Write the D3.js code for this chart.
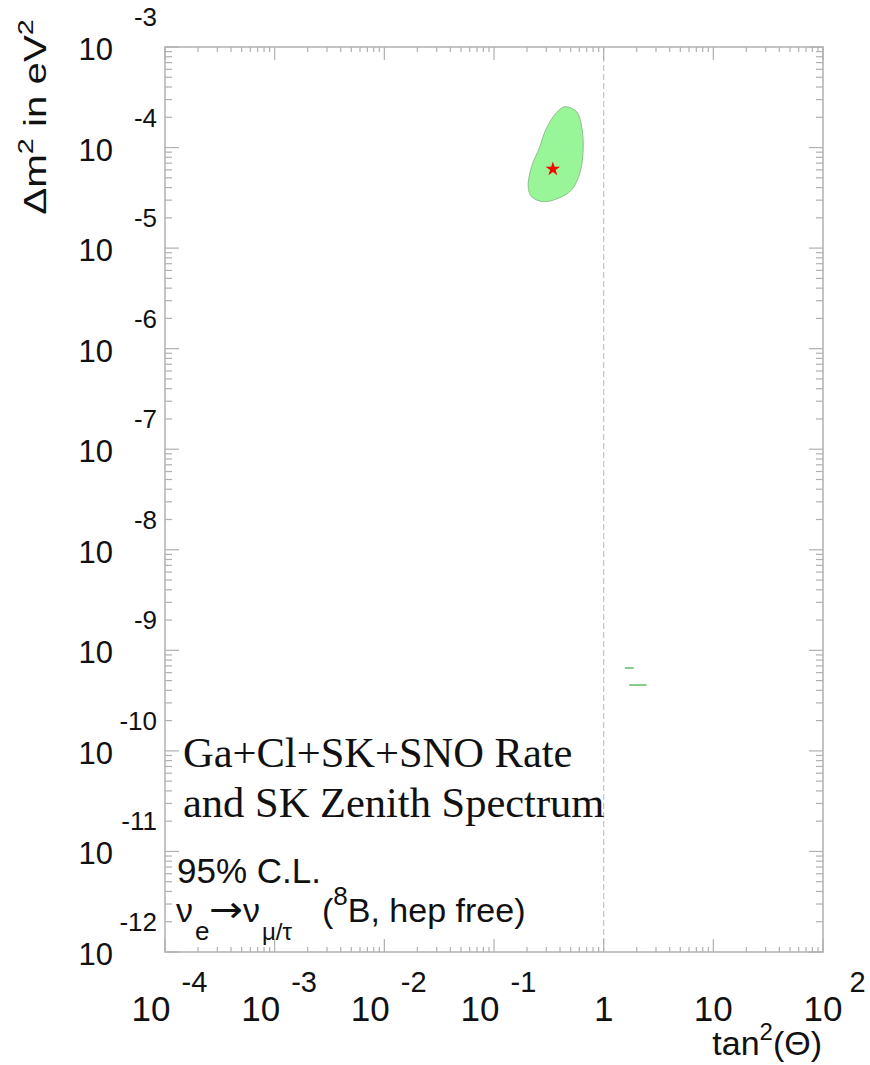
<!DOCTYPE html>
<html>
<head>
<meta charset="utf-8">
<script src="https://cdn.jsdelivr.net/npm/d3@7"></script>
<style>
  body { margin: 0; background: #fff; }
  svg text { fill: #111; }
</style>
</head>
<body>
<div id="chart"></div>
<script>
// tick decades and labels
const xExponents = [-4, -3, -2, -1, 0, 1, 2];
const xTickBase = ["10", "10", "10", "10", "1", "10", "10"];
const xTickExp = ["-4", "-3", "-2", "-1", "", "", "2"];
const yExponents = [-3, -4, -5, -6, -7, -8, -9, -10, -11, -12];

// 95% C.L. allowed region (LMA)
const contourX = [0.443, 0.566, 0.630, 0.650, 0.607, 0.509, 0.385, 0.281, 0.220, 0.205, 0.220, 0.262, 0.291, 0.347, 0.399];
const contourY = [2.55e-4, 2.28e-4, 1.61e-4, 9.46e-5, 5.6e-5, 3.79e-5, 3.13e-5, 2.90e-5, 3.25e-5, 4.08e-5, 6.46e-5, 1.02e-4, 1.44e-4, 2.03e-4, 2.40e-4];

// tiny islands at large mixing
const islandX0 = [1.56, 1.71];
const islandX1 = [1.88, 2.46];
const islandY = [6.67e-10, 4.52e-10];

// best fit point
const bestFitX = [0.344];
const bestFitY = [6.1e-5];

const W = 870, H = 1065;
const mLeft = 165, mRight = 823, mTop = 47, mBottom = 952;
const sans = "'Liberation Sans', Arial, sans-serif";
const serif = "'Liberation Serif', 'Times New Roman', serif";

const svg = d3.select("#chart").append("svg")
    .attr("width", W)
    .attr("height", H)
    .style("font-family", sans);

const x = d3.scaleLog().domain([1e-4, 1e2]).range([mLeft, mRight]);
const y = d3.scaleLog().domain([1e-12, 1e-3]).range([mBottom, mTop]);

const frameColor = "#b0b0b0";

// allowed region
const pts = contourX.map((d, i) => [x(d), y(contourY[i])]);
svg.append("path")
    .attr("d", d3.line().curve(d3.curveCatmullRomClosed.alpha(0.5))(pts))
    .attr("fill", "#98f598")
    .attr("stroke", "#8fbf8f")
    .attr("stroke-width", 1);

svg.selectAll(".island")
    .data(islandY)
    .enter()
    .append("line")
    .attr("x1", (d, i) => x(islandX0[i]))
    .attr("x2", (d, i) => x(islandX1[i]))
    .attr("y1", d => y(d))
    .attr("y2", d => y(d))
    .attr("stroke", "#6cbf6c")
    .attr("stroke-width", 1.6);

// dashed line at maximal mixing
svg.append("line")
    .attr("x1", x(1)).attr("x2", x(1))
    .attr("y1", mTop).attr("y2", mBottom)
    .attr("stroke", "#c4c4c4")
    .attr("stroke-width", 1.2)
    .attr("stroke-dasharray", "6,3");

svg.selectAll(".star")
    .data(bestFitX)
    .enter()
    .append("path")
    .attr("d", d3.symbol().type(d3.symbolStar).size(65))
    .attr("transform", (d, i) => "translate(" + x(d) + "," + y(bestFitY[i]) + ")")
    .attr("fill", "#ff0000");

// frame
svg.append("rect")
    .attr("x", mLeft).attr("y", mTop)
    .attr("width", mRight - mLeft).attr("height", mBottom - mTop)
    .attr("fill", "none")
    .attr("stroke", frameColor)
    .attr("stroke-width", 1.5);

// ticks on all four sides
const ticks = svg.append("g").attr("stroke", frameColor).attr("stroke-width", 1.2);
const xMinor = [], yMinor = [];
xExponents.slice(0, -1).forEach(e => {
    for (let m = 2; m <= 9; m++) xMinor.push(m * Math.pow(10, e));
});
yExponents.slice(1).forEach(e => {
    for (let m = 2; m <= 9; m++) yMinor.push(m * Math.pow(10, e));
});
const xMajor = xExponents.map(e => Math.pow(10, e));
const yMajor = yExponents.map(e => Math.pow(10, e));

function xTicks(vals, len) {
    vals.forEach(v => {
        ticks.append("line").attr("x1", x(v)).attr("x2", x(v)).attr("y1", mTop).attr("y2", mTop + len);
        ticks.append("line").attr("x1", x(v)).attr("x2", x(v)).attr("y1", mBottom).attr("y2", mBottom - len);
    });
}
function yTicks(vals, len) {
    vals.forEach(v => {
        ticks.append("line").attr("y1", y(v)).attr("y2", y(v)).attr("x1", mLeft).attr("x2", mLeft + len);
        ticks.append("line").attr("y1", y(v)).attr("y2", y(v)).attr("x1", mRight).attr("x2", mRight - len);
    });
}
xTicks(xMinor, 5);
xTicks(xMajor, 13);
yTicks(yMinor, 7);
yTicks(yMajor, 14);

// x tick labels
xExponents.forEach((e, i) => {
    const cx = x(Math.pow(10, e)) + (e < 0 ? -14 : 0);
    const t = svg.append("text")
        .attr("x", cx).attr("y", 1021)
        .attr("text-anchor", "middle")
        .attr("font-size", 35)
        .text(xTickBase[i]);
    if (xTickExp[i]) {
        const bb = t.node().getBBox();
        svg.append("text")
            .attr("x", bb.x + bb.width + (e < 0 ? 11 : 7)).attr("y", 992)
            .attr("font-size", 29)
            .text(xTickExp[i]);
    }
});

// y tick labels
yExponents.forEach(e => {
    const yy = y(Math.pow(10, e));
    svg.append("text")
        .attr("x", 113).attr("y", yy + 13)
        .attr("text-anchor", "end")
        .attr("font-size", 31)
        .text("10");
    svg.append("text")
        .attr("x", 157).attr("y", yy - 21)
        .attr("text-anchor", "end")
        .attr("font-size", 26)
        .text(String(e));
});

// axis titles
const xt = svg.append("text")
    .attr("x", 822).attr("y", 1055)
    .attr("text-anchor", "end")
    .attr("font-size", 34);
xt.append("tspan").text("tan");
xt.append("tspan").attr("dy", -15).attr("font-size", 24).text("2");
xt.append("tspan").attr("dy", 15).text("(\u0398)");

const yt = svg.append("text")
    .attr("transform", "translate(46,117) rotate(-90) scale(1.3,1)")
    .attr("text-anchor", "middle")
    .attr("font-size", 31);
yt.append("tspan").text("\u0394m");
yt.append("tspan").attr("dy", -13).attr("font-size", 22).text("2");
yt.append("tspan").attr("dy", 13).text(" in eV");
yt.append("tspan").attr("dy", -13).attr("font-size", 22).text("2");

// annotations
svg.append("text")
    .attr("x", 183).attr("y", 767)
    .style("font-family", serif)
    .attr("font-size", 42.5)
    .text("Ga+Cl+SK+SNO Rate");
svg.append("text")
    .attr("x", 183).attr("y", 817)
    .style("font-family", serif)
    .attr("font-size", 42.5)
    .text("and SK Zenith Spectrum");

svg.append("text")
    .attr("x", 177).attr("y", 883)
    .attr("font-size", 35)
    .text("95% C.L.");

const nu = svg.append("text")
    .attr("y", 922)
    .attr("font-size", 34);
nu.append("tspan").attr("x", 176).text("\u03bd");
nu.append("tspan").attr("x", 195).attr("dy", 18).attr("font-size", 26).text("e");
nu.append("tspan").attr("x", 209).attr("dy", -18)
    .style("font-family", "'DejaVu Sans', sans-serif")
    .attr("font-size", 36)
    .attr("textLength", 34)
    .attr("lengthAdjust", "spacingAndGlyphs")
    .text("\u2192");
nu.append("tspan").attr("x", 243).text("\u03bd");
nu.append("tspan").attr("x", 262).attr("dy", 18).attr("font-size", 24).text("\u03bc/\u03c4");
nu.append("tspan").attr("x", 322).attr("dy", -18).text("(");
nu.append("tspan").attr("dy", -17).attr("font-size", 26).text("8");
nu.append("tspan").attr("dy", 17).text("B, hep free)");
</script>
</body>
</html>
